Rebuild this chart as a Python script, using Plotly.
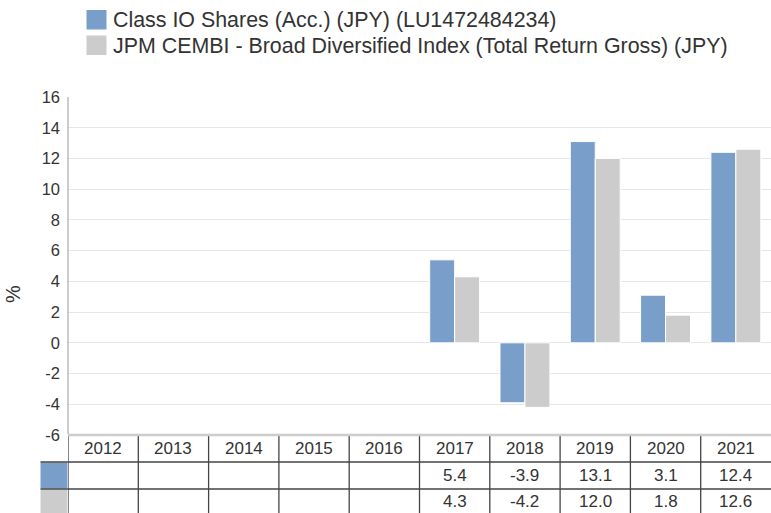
import plotly.graph_objects as go

years = ["2012", "2013", "2014", "2015", "2016", "2017", "2018", "2019", "2020", "2021"]
fund_name = "Class IO Shares (Acc.) (JPY) (LU1472484234)"
index_name = "JPM CEMBI - Broad Diversified Index (Total Return Gross) (JPY)"
fund_values = [None, None, None, None, None, 5.4, -3.9, 13.1, 3.1, 12.4]
index_values = [None, None, None, None, None, 4.3, -4.2, 12.0, 1.8, 12.6]
y_ticks = [-6, -4, -2, 0, 2, 4, 6, 8, 10, 12, 14, 16]

BLUE = "#7a9eca"
GRAY = "#cccccc"
TXT = "#333333"
FONT = "Liberation Sans, Arial, sans-serif"

W, H = 771, 513
L, R, T, B = 68, 0, 97, 78
PW, PH = W - L - R, H - T - B


def px(x):
    return (x - L) / PW


def py(y):
    return (H - B - y) / PH


fig = go.Figure()
fig.add_trace(go.Bar(x=years, y=fund_values, name=fund_name,
                     marker=dict(color=BLUE, line=dict(color="#ffffff", width=1)),
                     showlegend=False))
fig.add_trace(go.Bar(x=years, y=index_values, name=index_name,
                     marker=dict(color=GRAY, line=dict(color="#ffffff", width=1)),
                     showlegend=False))

shapes = []
annotations = []

# legend (manual)
for i, (name, col) in enumerate([(fund_name, BLUE), (index_name, GRAY)]):
    y0, y1 = 10 + i * 25.5, 29.5 + i * 25.5
    shapes.append(dict(type="rect", xref="paper", yref="paper",
                       x0=px(86.5), x1=px(106.5), y0=py(y1), y1=py(y0),
                       fillcolor=col, line=dict(width=0)))
    annotations.append(dict(xref="paper", yref="paper", x=px(111), y=py((y0 + y1) / 2 + 0.5),
                            xanchor="left", yanchor="middle", showarrow=False,
                            text=name, font=dict(size=21.4, color=TXT, family=FONT)))

# y-axis title
annotations.append(dict(xref="paper", yref="paper", x=px(13), y=py(294),
                        xanchor="center", yanchor="middle", showarrow=False,
                        text="%", textangle=-90, font=dict(size=20, color=TXT, family=FONT)))

# table
# swatch column
shapes.append(dict(type="rect", xref="paper", yref="paper", x0=px(40.5), x1=px(67.5),
                   y0=py(488.5), y1=py(462.5), fillcolor=BLUE, line=dict(width=0)))
shapes.append(dict(type="rect", xref="paper", yref="paper", x0=px(40.5), x1=px(67.5),
                   y0=py(514), y1=py(489.5), fillcolor=GRAY, line=dict(width=0)))
# horizontal lines
for yy in [462, 489]:
    shapes.append(dict(type="line", xref="paper", yref="paper", x0=px(40.5), x1=1,
                       y0=py(yy), y1=py(yy), line=dict(color="#444444", width=1.3)))
# vertical lines
for i in range(len(years)):
    shapes.append(dict(type="line", xref="x", yref="paper", x0=i - 0.5, x1=i - 0.5,
                       y0=py(514), y1=py(436), line=dict(color="#444444", width=1.3)))
# top border of table (light)
shapes.append(dict(type="line", xref="paper", yref="paper", x0=0, x1=1,
                   y0=py(435), y1=py(435), line=dict(color="#cccccc", width=2.5)))
# y axis line
shapes.append(dict(type="line", xref="paper", yref="paper", x0=0, x1=0,
                   y0=py(434), y1=1, line=dict(color="#999999", width=1)))

for i, yr in enumerate(years):
    annotations.append(dict(xref="x", yref="paper", x=i, y=py(448.5), xanchor="center",
                            yanchor="middle", showarrow=False, text=yr,
                            font=dict(size=17, color=TXT, family=FONT)))
    for vals, yc in [(fund_values, 475.5), (index_values, 501.5)]:
        v = vals[i]
        if v is not None:
            annotations.append(dict(xref="x", yref="paper", x=i, y=py(yc), xanchor="center",
                                    yanchor="middle", showarrow=False, text=f"{v:.1f}",
                                    font=dict(size=17, color=TXT, family=FONT)))

fig.update_layout(
    width=W, height=H, autosize=False,
    margin=dict(l=L, r=R, t=T, b=B, pad=0),
    paper_bgcolor="#ffffff", plot_bgcolor="#ffffff",
    barmode="group", bargap=0.29, bargroupgap=0.0,
    font=dict(family=FONT, color=TXT, size=16),
    shapes=shapes, annotations=annotations,
    xaxis=dict(type="category", range=[-0.5, 9.5], showticklabels=False,
               showgrid=False, zeroline=False, showline=False, fixedrange=True),
    yaxis=dict(range=[-6, 16], tickvals=y_ticks, ticktext=[str(t) for t in y_ticks],
               showgrid=True, gridcolor="#e6e6e6", gridwidth=1, zeroline=False,
               showline=False, ticks="", ticklabelstandoff=7,
               tickfont=dict(size=16.5, color=TXT, family=FONT)),
)

fig.write_html("out.html", config={"displayModeBar": False},
               post_script="document.body.style.margin='0px';document.body.style.overflow='hidden';")
